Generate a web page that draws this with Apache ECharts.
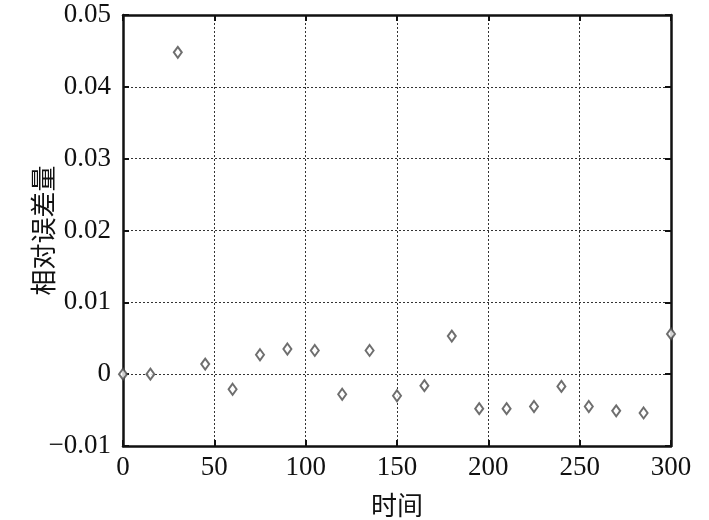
<!DOCTYPE html>
<html>
<head>
<meta charset="utf-8">
<script src="https://cdn.jsdelivr.net/npm/echarts@6/dist/echarts.min.js"></script>
<style>html,body{margin:0;padding:0;background:#fff}#c{width:709px;height:520px}</style>
</head>
<body>
<div id="c"></div>
<script>
var times = [0, 15, 30, 45, 60, 75, 90, 105, 120, 135, 150, 165, 180, 195, 210, 225, 240, 255, 270, 285, 300];
var relErr = [0, 0, 0.0448, 0.0014, -0.0021, 0.0027, 0.0035, 0.0033, -0.0028, 0.0033, -0.0030, -0.0016, 0.0053, -0.0048, -0.0048, -0.0045, -0.0017, -0.0045, -0.0051, -0.0054, 0.0056];
var xTicks = [0, 50, 100, 150, 200, 250, 300];
var yTicks = [-0.01, 0, 0.01, 0.02, 0.03, 0.04, 0.05];
var xName = '时间';
var yName = '相对误差量';

var serif = '"Liberation Serif","Times New Roman",serif';
var cjk = '"Noto Sans CJK SC",sans-serif';
var chart = echarts.init(document.getElementById('c'));
var gridLine = {show: true, lineStyle: {color: '#333', type: [2, 2], width: 1}};
function fmtY(v) {
  var r = Math.round(v * 100) / 100;
  if (r === 0) return '0';
  return String(r).replace('-', '\u2212');
}
var data = times.map(function (t, i) { return [t, relErr[i]]; });
var lineS = {color: '#111', width: 2.5};
var tickS = {show: true, inside: true, length: 6, lineStyle: {color: '#111', width: 2}};
chart.setOption({
  animation: false,
  grid: {left: 123, right: 38, top: 15, bottom: 74, containLabel: false, outerBoundsMode: 'none'},
  xAxis: [{
    type: 'value', min: 0, max: 300, interval: 50,
    name: xName, nameLocation: 'middle', nameGap: 46, nameMoveOverlap: false,
    nameTextStyle: {fontFamily: cjk, fontSize: 26, color: '#111'},
    axisLine: {show: true, onZero: false, lineStyle: lineS},
    axisTick: tickS,
    axisLabel: {fontFamily: serif, fontSize: 27, color: '#111', margin: 8},
    splitLine: gridLine
  }, {
    type: 'value', min: 0, max: 300, interval: 50, position: 'top',
    axisLine: {show: true, onZero: false, lineStyle: lineS},
    axisTick: tickS,
    axisLabel: {show: false}, splitLine: {show: false}
  }],
  yAxis: [{
    type: 'value', min: -0.01, max: 0.05, interval: 0.01,
    name: yName, nameLocation: 'middle', nameGap: 67, nameRotate: 90, nameMoveOverlap: false,
    nameTextStyle: {fontFamily: cjk, fontSize: 26, color: '#111'},
    axisLine: {show: true, onZero: false, lineStyle: lineS},
    axisTick: tickS,
    axisLabel: {fontFamily: serif, fontSize: 27, color: '#111', margin: 12, formatter: fmtY},
    splitLine: gridLine
  }, {
    type: 'value', min: -0.01, max: 0.05, interval: 0.01, position: 'right',
    axisLine: {show: true, onZero: false, lineStyle: lineS},
    axisTick: tickS,
    axisLabel: {show: false}, splitLine: {show: false}
  }],
  series: [{
    type: 'scatter', xAxisIndex: 0, yAxisIndex: 0,
    data: data, symbol: 'diamond', symbolSize: [8, 11],
    itemStyle: {color: '#fff', borderColor: '#4a4a4a', borderWidth: 2},
    clip: false, z: 5
  }]
});
</script>
</body>
</html>
